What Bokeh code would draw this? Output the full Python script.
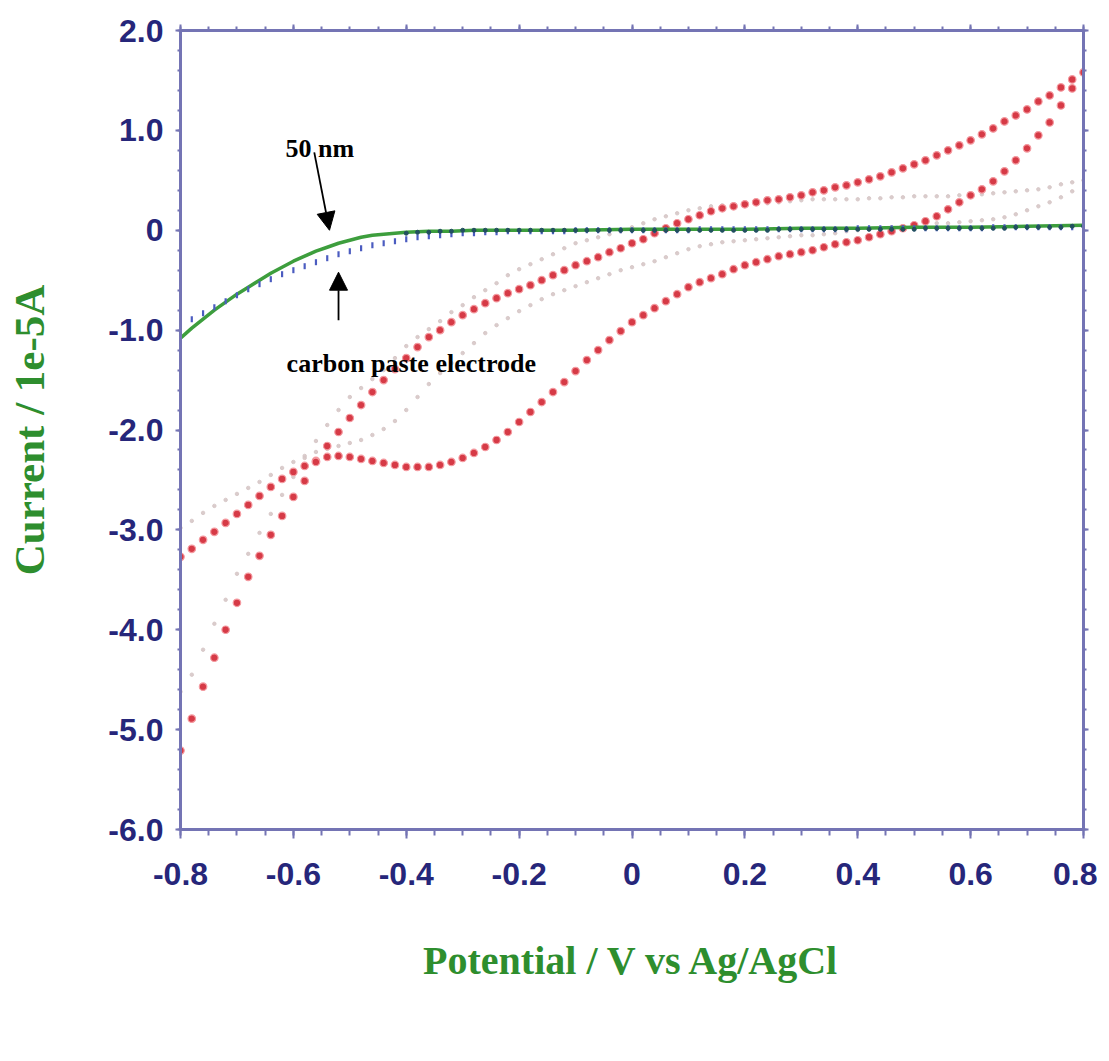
import numpy as np
from bokeh.plotting import figure
from bokeh.models import (LinearAxis, FixedTicker, Arrow, NormalHead, Range1d,
                          CustomJSTickFormatter)
from bokeh.core.properties import value
from bokeh.embed import file_html
from bokeh.resources import INLINE

# ---------------- data ----------------
x_ticks = [-0.8, -0.6, -0.4, -0.2, 0, 0.2, 0.4, 0.6, 0.8]
x_tick_labels = ["-0.8", "-0.6", "-0.4", "-0.2", "0", "0.2", "0.4", "0.6", "0.8"]
y_ticks = [2.0, 1.0, 0, -1.0, -2.0, -3.0, -4.0, -5.0, -6.0]
y_tick_labels = ["2.0", "1.0", "0", "-1.0", "-2.0", "-3.0", "-4.0", "-5.0", "-6.0"]

# red CV loop, branch A (forward, with hump)
redA_x = [-0.80, -0.78, -0.76, -0.74, -0.72, -0.70, -0.68, -0.66, -0.64, -0.62,
          -0.60, -0.58, -0.56, -0.54, -0.52, -0.50, -0.48, -0.46, -0.44, -0.42,
          -0.40, -0.38, -0.36, -0.34, -0.32, -0.30, -0.28, -0.26, -0.24, -0.22,
          -0.20, -0.18, -0.16, -0.14, -0.12, -0.10, -0.08, -0.06, -0.04, -0.02,
          0.00, 0.02, 0.04, 0.06, 0.08, 0.10, 0.12, 0.14, 0.16, 0.18,
          0.20, 0.22, 0.24, 0.26, 0.28, 0.30, 0.32, 0.34, 0.36, 0.38,
          0.40, 0.42, 0.44, 0.46, 0.48, 0.50, 0.52, 0.54, 0.56, 0.58,
          0.60, 0.62, 0.64, 0.66, 0.68, 0.70, 0.72, 0.74, 0.76, 0.78]
redA_y = [-3.27, -3.19, -3.10, -3.02, -2.93, -2.84, -2.75, -2.66, -2.57, -2.49,
          -2.42, -2.36, -2.31, -2.27, -2.26, -2.27, -2.29, -2.31, -2.33, -2.35,
          -2.37, -2.37, -2.37, -2.35, -2.32, -2.28, -2.23, -2.17, -2.10, -2.02,
          -1.92, -1.82, -1.72, -1.62, -1.52, -1.41, -1.30, -1.20, -1.10, -1.01,
          -0.92, -0.85, -0.78, -0.71, -0.64, -0.57, -0.52, -0.48, -0.44, -0.39,
          -0.35, -0.32, -0.29, -0.26, -0.24, -0.22, -0.20, -0.17, -0.14, -0.12,
          -0.10, -0.07, -0.04, -0.01, 0.02, 0.05, 0.09, 0.14, 0.21, 0.28,
          0.35, 0.41, 0.49, 0.59, 0.70, 0.82, 0.95, 1.08, 1.25, 1.42]

# red CV loop, branch B (reverse, steep at the negative end)
redB_x = [0.80, 0.78, 0.76, 0.74, 0.72, 0.70, 0.68, 0.66, 0.64, 0.62,
          0.60, 0.58, 0.56, 0.54, 0.52, 0.50, 0.48, 0.46, 0.44, 0.42,
          0.40, 0.38, 0.36, 0.34, 0.32, 0.30, 0.28, 0.26, 0.24, 0.22,
          0.20, 0.18, 0.16, 0.14, 0.12, 0.10, 0.08, 0.06, 0.04, 0.02,
          0.00, -0.02, -0.04, -0.06, -0.08, -0.10, -0.12, -0.14, -0.16, -0.18,
          -0.20, -0.22, -0.24, -0.26, -0.28, -0.30, -0.32, -0.34, -0.36, -0.38,
          -0.40, -0.42, -0.44, -0.46, -0.48, -0.50, -0.52, -0.54, -0.56, -0.58,
          -0.60, -0.62, -0.64, -0.66, -0.68, -0.70, -0.72, -0.74, -0.76, -0.78, -0.80]
redB_y = [1.58, 1.51, 1.43, 1.35, 1.29, 1.21, 1.15, 1.09, 1.02, 0.96,
          0.90, 0.85, 0.80, 0.75, 0.70, 0.66, 0.62, 0.58, 0.54, 0.51,
          0.48, 0.45, 0.43, 0.40, 0.38, 0.35, 0.33, 0.31, 0.30, 0.28,
          0.26, 0.24, 0.22, 0.19, 0.15, 0.11, 0.07, 0.02, -0.03, -0.09,
          -0.13, -0.18, -0.22, -0.27, -0.31, -0.35, -0.40, -0.45, -0.50, -0.55,
          -0.59, -0.63, -0.68, -0.73, -0.79, -0.85, -0.92, -1.00, -1.07, -1.17,
          -1.28, -1.39, -1.50, -1.62, -1.75, -1.88, -2.02, -2.16, -2.32, -2.51,
          -2.67, -2.86, -3.05, -3.26, -3.47, -3.73, -4.00, -4.28, -4.57, -4.89, -5.21]

# faint grey loop, branch 1
grey1_x = [-0.80, -0.78, -0.76, -0.74, -0.72, -0.70, -0.68, -0.66, -0.64, -0.62,
           -0.60, -0.58, -0.56, -0.54, -0.52, -0.50, -0.48, -0.46, -0.44, -0.42,
           -0.40, -0.38, -0.36, -0.34, -0.32, -0.30, -0.28, -0.26, -0.24, -0.22,
           -0.20, -0.18, -0.16, -0.14, -0.12, -0.10, -0.08, -0.06, -0.04, -0.02,
           0.00, 0.02, 0.04, 0.06, 0.08, 0.10, 0.12, 0.14, 0.16, 0.18,
           0.20, 0.22, 0.24, 0.26, 0.28, 0.30, 0.32, 0.34, 0.36, 0.38,
           0.40, 0.42, 0.44, 0.46, 0.48, 0.50, 0.52, 0.54, 0.56, 0.58,
           0.60, 0.62, 0.64, 0.66, 0.68, 0.70, 0.72, 0.74, 0.76, 0.78]
grey1_y = [-2.98, -2.91, -2.83, -2.76, -2.70, -2.64, -2.58, -2.52, -2.45, -2.38,
           -2.32, -2.26, -2.22, -2.19, -2.16, -2.13, -2.10, -2.05, -1.99, -1.91,
           -1.80, -1.67, -1.54, -1.43, -1.33, -1.23, -1.13, -1.03, -0.95, -0.88,
           -0.81, -0.75, -0.69, -0.64, -0.60, -0.56, -0.52, -0.48, -0.44, -0.40,
           -0.37, -0.34, -0.31, -0.27, -0.23, -0.19, -0.16, -0.14, -0.12, -0.11,
           -0.10, -0.09, -0.08, -0.07, -0.06, -0.05, -0.05, -0.04, -0.03, -0.01,
           0.00, 0.01, 0.02, 0.03, 0.04, 0.05, 0.06, 0.07, 0.07, 0.08,
           0.09, 0.10, 0.11, 0.13, 0.16, 0.20, 0.24, 0.28, 0.33, 0.39]

# faint grey loop, branch 2
grey2_x = [0.80, 0.78, 0.76, 0.74, 0.72, 0.70, 0.68, 0.66, 0.64, 0.62,
           0.60, 0.58, 0.56, 0.54, 0.52, 0.50, 0.48, 0.46, 0.44, 0.42,
           0.40, 0.38, 0.36, 0.34, 0.32, 0.30, 0.28, 0.26, 0.24, 0.22,
           0.20, 0.18, 0.16, 0.14, 0.12, 0.10, 0.08, 0.06, 0.04, 0.02,
           0.00, -0.02, -0.04, -0.06, -0.08, -0.10, -0.12, -0.14, -0.16, -0.18,
           -0.20, -0.22, -0.24, -0.26, -0.28, -0.30, -0.32, -0.34, -0.36, -0.38,
           -0.40, -0.42, -0.44, -0.46, -0.48, -0.50, -0.52, -0.54, -0.56, -0.58,
           -0.60, -0.62, -0.64, -0.66, -0.68, -0.70, -0.72, -0.74, -0.76, -0.78, -0.80]
grey2_y = [0.50, 0.48, 0.46, 0.43, 0.41, 0.40, 0.39, 0.38, 0.37, 0.36,
           0.35, 0.35, 0.34, 0.34, 0.34, 0.34, 0.33, 0.33, 0.32, 0.32,
           0.31, 0.31, 0.31, 0.31, 0.31, 0.30, 0.29, 0.28, 0.27, 0.27,
           0.26, 0.26, 0.25, 0.24, 0.22, 0.20, 0.17, 0.14, 0.11, 0.07,
           0.03, -0.01, -0.04, -0.07, -0.10, -0.13, -0.18, -0.24, -0.29, -0.34,
           -0.39, -0.45, -0.53, -0.60, -0.67, -0.75, -0.82, -0.91, -0.99, -1.07,
           -1.16, -1.28, -1.40, -1.49, -1.58, -1.67, -1.80, -1.95, -2.11, -2.28,
           -2.47, -2.65, -2.84, -3.03, -3.24, -3.44, -3.70, -3.94, -4.20, -4.45, -4.62]

# 50 nm electrode (solid green)
green_x = [-0.80, -0.78, -0.76, -0.74, -0.72, -0.70, -0.68, -0.66, -0.64, -0.62,
           -0.60, -0.58, -0.56, -0.54, -0.52, -0.50, -0.48, -0.46, -0.44, -0.42,
           -0.40, -0.36, -0.32, -0.28, -0.20, -0.10, 0.00, 0.10, 0.20, 0.30,
           0.40, 0.50, 0.60, 0.70, 0.80]
green_y = [-1.08, -0.98, -0.89, -0.80, -0.72, -0.64, -0.57, -0.50, -0.43, -0.37,
           -0.31, -0.26, -0.21, -0.17, -0.13, -0.10, -0.07, -0.05, -0.04, -0.03,
           -0.02, -0.01, -0.01, 0.00, 0.00, 0.00, 0.01, 0.01, 0.01, 0.02,
           0.02, 0.03, 0.03, 0.04, 0.05]

# carbon paste electrode (blue dots)
blue_x = [-0.80, -0.78, -0.76, -0.74, -0.72, -0.70, -0.68, -0.66, -0.64, -0.62,
          -0.60, -0.58, -0.56, -0.54, -0.52, -0.50, -0.48, -0.46, -0.44, -0.42,
          -0.40, -0.38, -0.36, -0.34, -0.32, -0.30, -0.28, -0.26, -0.24, -0.22,
          -0.20, -0.18, -0.16, -0.14, -0.12, -0.10, -0.08, -0.06, -0.04, -0.02,
          0.00, 0.02, 0.04, 0.06, 0.08, 0.10, 0.12, 0.14, 0.16, 0.18,
          0.20, 0.22, 0.24, 0.26, 0.28, 0.30, 0.32, 0.34, 0.36, 0.38,
          0.40, 0.42, 0.44, 0.46, 0.48, 0.50, 0.52, 0.54, 0.56, 0.58,
          0.60, 0.62, 0.64, 0.66, 0.68, 0.70, 0.72, 0.74, 0.76, 0.78, 0.80]
blue_y = [-0.95, -0.89, -0.83, -0.77, -0.71, -0.65, -0.59, -0.54, -0.49, -0.44,
          -0.40, -0.36, -0.32, -0.28, -0.24, -0.21, -0.18, -0.15, -0.13, -0.11,
          -0.09, -0.07, -0.06, -0.05, -0.04, -0.03, -0.03, -0.02, -0.02, -0.01,
          -0.01, -0.01, -0.01, -0.01, -0.01, 0.00, 0.00, 0.00, 0.00, 0.00,
          0.00, 0.00, 0.00, 0.00, 0.00, 0.00, 0.01, 0.01, 0.01, 0.01,
          0.01, 0.01, 0.01, 0.01, 0.01, 0.01, 0.01, 0.01, 0.01, 0.01,
          0.02, 0.02, 0.02, 0.02, 0.02, 0.02, 0.02, 0.02, 0.02, 0.02,
          0.02, 0.02, 0.03, 0.03, 0.03, 0.03, 0.03, 0.03, 0.03, 0.03, 0.03]

# dark dotted trace on the baseline
teal_x = [-0.40, -0.38, -0.36, -0.34, -0.32, -0.30, -0.28, -0.26, -0.24, -0.22,
          -0.20, -0.18, -0.16, -0.14, -0.12, -0.10, -0.08, -0.06, -0.04, -0.02,
          0.00, 0.02, 0.04, 0.06, 0.08, 0.10, 0.12, 0.14, 0.16, 0.18,
          0.20, 0.22, 0.24, 0.26, 0.28, 0.30, 0.32, 0.34, 0.36, 0.38,
          0.40, 0.42, 0.44, 0.46, 0.48, 0.50, 0.52, 0.54, 0.56, 0.58,
          0.60, 0.62, 0.64, 0.66, 0.68, 0.70, 0.72, 0.74, 0.76, 0.78, 0.80]
teal_y = [-0.03, -0.02, -0.02, -0.01, -0.01, 0.00, 0.00, 0.00, 0.00, 0.00,
          0.00, 0.00, 0.00, 0.00, 0.00, 0.00, 0.00, 0.00, 0.00, 0.00,
          0.00, 0.00, 0.00, 0.00, 0.00, 0.00, 0.00, 0.00, 0.00, 0.00,
          0.00, 0.00, 0.00, 0.01, 0.01, 0.01, 0.01, 0.01, 0.01, 0.01,
          0.01, 0.01, 0.01, 0.01, 0.01, 0.01, 0.02, 0.02, 0.02, 0.02,
          0.02, 0.02, 0.02, 0.02, 0.03, 0.03, 0.03, 0.03, 0.03, 0.04, 0.04]

# ---------------- styles ----------------
AXIS_COL = "#7474b4"
TICK_LABEL_COL = "#26267a"
TITLE_COL = "#2e8e2e"
TICK_FONT = "Liberation Sans"
SERIF = "Liberation Serif"

p = figure(frame_width=903, frame_height=799,
           x_range=Range1d(-0.8, 0.8), y_range=Range1d(-6.0, 2.0),
           output_backend="svg", toolbar_location=None,
           min_border_left=180, min_border_top=30, min_border_right=14,
           min_border_bottom=200, x_axis_location=None, y_axis_location=None)
p.background_fill_color = "white"
p.border_fill_color = "white"
p.grid.visible = False
p.outline_line_color = AXIS_COL
p.outline_line_width = 3

x_minor = [round(v, 3) for v in np.arange(-0.8, 0.8001, 0.05)]
y_minor = [round(v, 3) for v in np.arange(-6.0, 2.0001, 0.2)]


def make_axis(ticks, minor, labels_map, show_labels, label=None):
    ax = LinearAxis(ticker=FixedTicker(ticks=ticks, minor_ticks=minor))
    ax.axis_line_color = AXIS_COL
    ax.axis_line_width = 3
    ax.major_tick_line_color = AXIS_COL
    ax.major_tick_line_width = 2
    ax.minor_tick_line_color = AXIS_COL
    ax.minor_tick_line_width = 2
    ax.major_tick_in = 0
    ax.minor_tick_in = 0
    if show_labels:
        ax.major_label_overrides = labels_map
        ax.major_label_text_font = TICK_FONT
        ax.major_label_text_font_style = "bold"
        ax.major_label_text_font_size = "32px"
        ax.major_label_text_color = TICK_LABEL_COL
    else:
        ax.formatter = CustomJSTickFormatter(code="return ''")
        ax.major_label_standoff = 0
    if label is not None:
        ax.axis_label = label
        ax.axis_label_text_font = SERIF
        ax.axis_label_text_font_style = "bold"
        ax.axis_label_text_color = TITLE_COL
    return ax


x_map = {t: l for t, l in zip(x_ticks, x_tick_labels)}
y_map = {t: l for t, l in zip(y_ticks, y_tick_labels)}

xb = make_axis(x_ticks, x_minor, x_map, True, "Potential / V vs Ag/AgCl")
xb.major_tick_out = 9
xb.minor_tick_out = 6
xb.major_label_standoff = 24
xb.axis_label_text_font_size = "40px"
xb.axis_label_standoff = 50
p.add_layout(xb, "below")

yl = make_axis(y_ticks, y_minor, y_map, True, "Current / 1e-5A")
yl.major_tick_out = 5
yl.minor_tick_out = 3
yl.major_label_standoff = 12
yl.axis_label_text_font_size = "43px"
yl.axis_label_standoff = 52
p.add_layout(yl, "left")

xt = make_axis(x_ticks, x_minor, x_map, False)
xt.major_tick_out = 6
xt.minor_tick_out = 4
p.add_layout(xt, "above")

yr = make_axis(y_ticks, y_minor, y_map, False)
yr.major_tick_out = 5
yr.minor_tick_out = 3
p.add_layout(yr, "right")

# ---------------- series ----------------
p.scatter(grey1_x, grey1_y, size=3.5, color="#d6c6c6", alpha=0.9)
p.scatter(grey2_x, grey2_y, size=3.5, color="#d6c6c6", alpha=0.9)
p.scatter(redA_x, redA_y, size=7.5, fill_color="#d63a46", line_color="#f49aa0",
          line_width=1.2)
p.scatter(redB_x, redB_y, size=7.5, fill_color="#d63a46", line_color="#f49aa0",
          line_width=1.2)
p.line(green_x, green_y, line_color="#3d9e3d", line_width=3.5)
p.scatter(blue_x, blue_y, marker="dash", angle=np.pi / 2, size=6,
          line_color="#4b5cc0", line_width=2.2)
p.scatter(teal_x, teal_y, size=4, color="#22505e")

# ---------------- annotations ----------------
head = dict(size=18, fill_color="black", line_color="black")
p.add_layout(Arrow(end=NormalHead(**head), x_start=-0.563, y_start=0.78,
                   x_end=-0.536, y_end=0.0, line_width=1.8, line_color="black"))
p.add_layout(Arrow(end=NormalHead(**head), x_start=-0.52, y_start=-0.90,
                   x_end=-0.52, y_end=-0.42, line_width=1.8, line_color="black"))

p.text(x=[-0.614], y=[0.82], text=["50 nm"], text_font=value(SERIF),
       text_font_style="bold", text_font_size="26px", text_color="black",
       text_baseline="alphabetic", text_align="left")
p.text(x=[-0.612], y=[-1.33], text=["carbon paste electrode"], text_font=value(SERIF),
       text_font_style="bold", text_font_size="26px", text_color="black",
       text_baseline="alphabetic", text_align="left")

open("out.html", "w").write(file_html(p, INLINE))
